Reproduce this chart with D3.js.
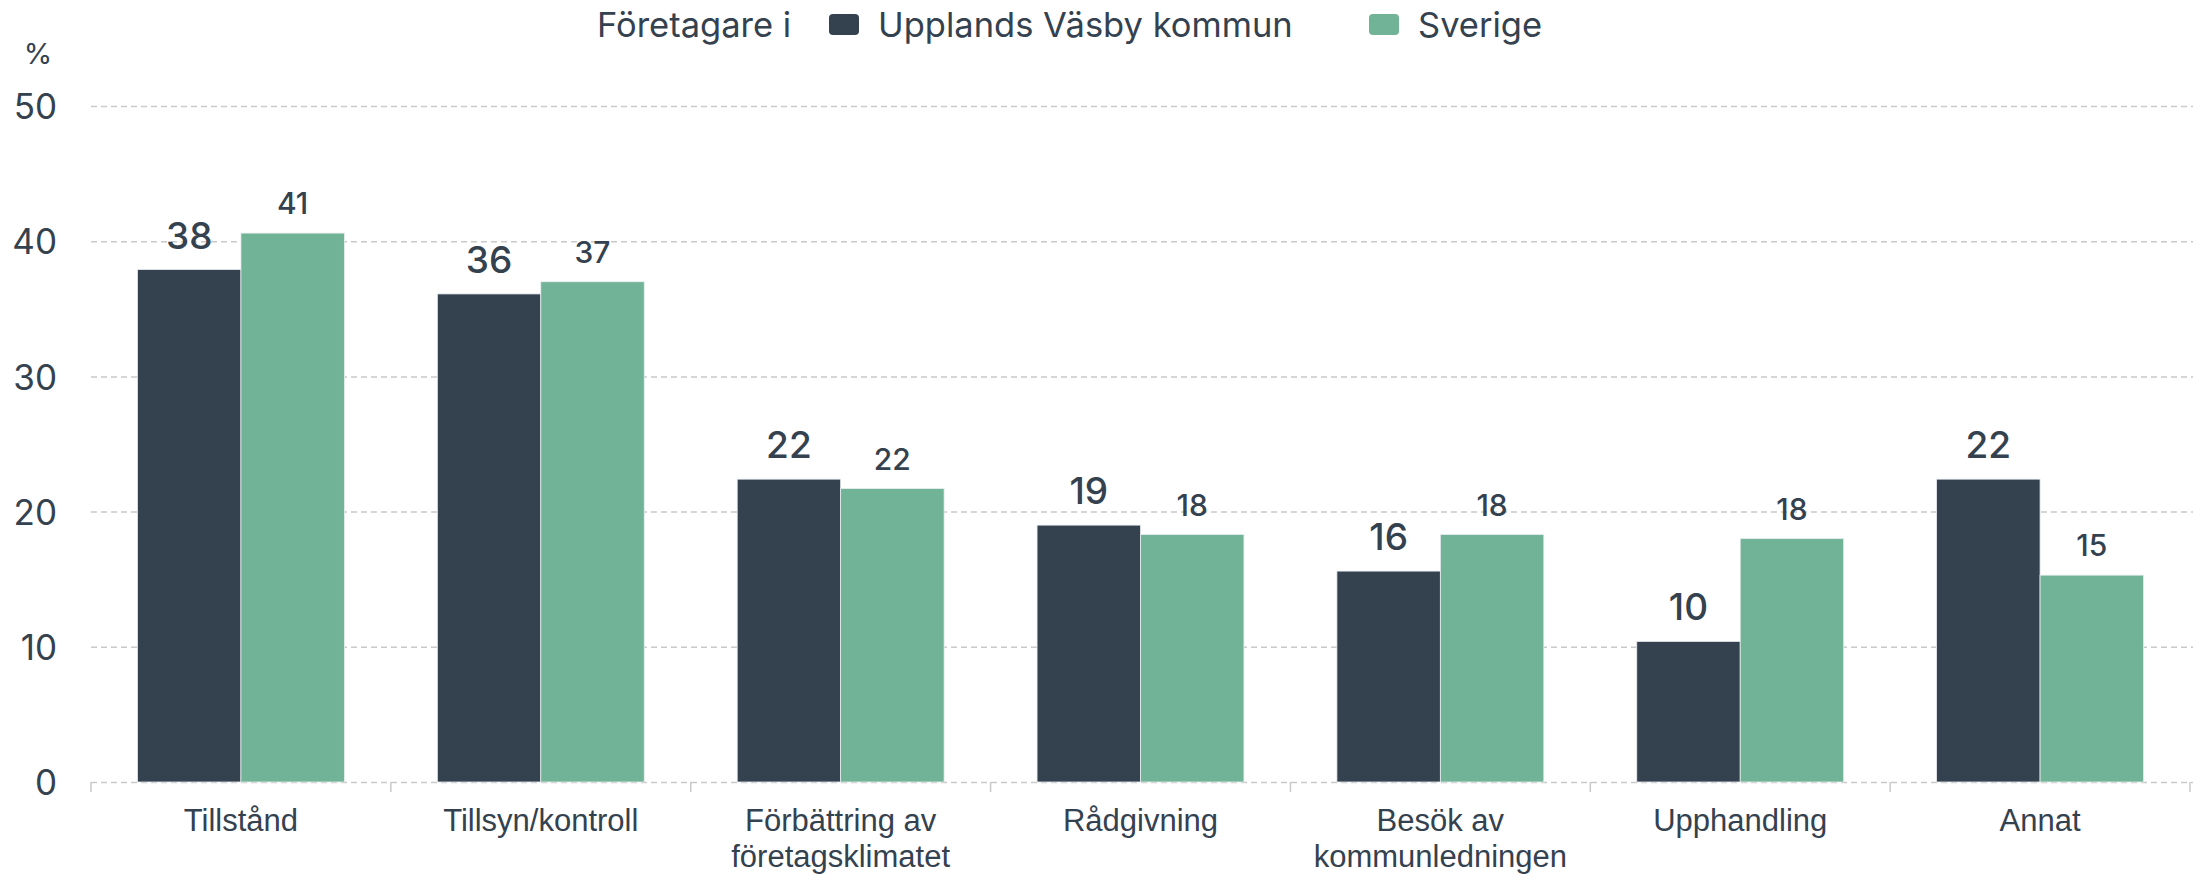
<html>
  <head>
    <meta charset="utf-8">
    <style>
    body {
      margin: 0;
      background: #fff;
    }
    .grid line {
      stroke: #c9c9c9;
      stroke-width: 1.5;
      stroke-dasharray: 6,4;
    }
    .grid .domain { display: none; }
    .ytick text {
      font-family: Inter, "Open Sans", sans-serif;
      font-size: 35px;
      fill: #34414f;
    }
    .cat {
      font-family: "Liberation Sans", Arial, sans-serif;
      font-size: 31px;
      fill: #34414f;
    }
    .legend text {
      font-family: Inter, "Open Sans", sans-serif;
      font-size: 34.5px;
      fill: #34414f;
    }
    </style>
  </head>
  <body>
    <script src="https://d3js.org/d3.v7.min.js"></script>
    <script>
    var width = 2193,
      height = 874;

    var categories = ["Tillstånd", "Tillsyn/kontroll", "Förbättring av företagsklimatet",
      "Rådgivning", "Besök av kommunledningen", "Upphandling", "Annat"];
    var catLines = [["Tillstånd"], ["Tillsyn/kontroll"], ["Förbättring av", "företagsklimatet"],
      ["Rådgivning"], ["Besök av", "kommunledningen"], ["Upphandling"], ["Annat"]];
    var seriesNames = ["Upplands Väsby kommun", "Sverige"];
    var vasby = [37.9, 36.1, 22.4, 19.0, 15.6, 10.4, 22.4];
    var sverige = [40.6, 37.0, 21.7, 18.3, 18.3, 18.0, 15.3];
    var yTicks = [0, 10, 20, 30, 40, 50];
    var colors = ["#34414f", "#71b396"];

    var margin = {left: 91, right: 3, top: 106, bottom: 92};

    var svg = d3.select("body").append("svg")
        .attr("width", width)
        .attr("height", height);

    var x0 = d3.scaleBand()
        .domain(categories)
        .range([margin.left, width - margin.right])
        .padding(0);

    var x1 = d3.scaleBand()
        .domain(seriesNames)
        .range([x0.bandwidth() * 0.155, x0.bandwidth() * 0.845])
        .padding(0);

    var y = d3.scaleLinear()
        .domain([0, 50])
        .range([height - margin.bottom, margin.top]);

    // gridlines + y labels
    var yAxis = svg.append("g")
        .attr("class", "grid ytick")
        .attr("transform", "translate(" + margin.left + ",0)")
        .call(d3.axisLeft(y)
          .tickValues(yTicks)
          .tickSize(-(width - margin.left))
          .tickPadding(34));
    yAxis.selectAll("text").attr("dy", "0.36em");

    // boundary ticks under baseline
    var bounds = categories.map(function(c){ return x0(c); }).concat([width - margin.right]);
    svg.append("g").attr("class", "grid")
      .selectAll("line")
      .data(bounds)
      .enter().append("line")
        .attr("x1", function(d){ return d; })
        .attr("x2", function(d){ return d; })
        .attr("y1", y(0))
        .attr("y2", y(0) + 10)
        .style("stroke-dasharray", "none");

    // "%" unit
    svg.append("text")
      .attr("x", 38)
      .attr("y", 64)
      .attr("text-anchor", "middle")
      .style("font-family", "Inter, sans-serif")
      .style("font-size", "29px")
      .style("fill", "#34414f")
      .text("%");

    var rows = categories.map(function(c, i){
      return {cat: c, values: [
        {s: seriesNames[0], v: vasby[i], k: 0},
        {s: seriesNames[1], v: sverige[i], k: 1}
      ]};
    });

    var groups = svg.append("g").selectAll("g")
      .data(rows)
      .enter().append("g")
        .attr("transform", function(d){ return "translate(" + x0(d.cat) + ",0)"; });

    groups.selectAll("rect")
      .data(function(d){ return d.values; })
      .enter().append("rect")
        .attr("x", function(d){ return x1(d.s); })
        .attr("width", x1.bandwidth())
        .attr("y", function(d){ return y(d.v); })
        .attr("height", function(d){ return y(0) - y(d.v); })
        .attr("fill", function(d){ return colors[d.k]; })
        .attr("stroke", "#e8ecef")
        .attr("stroke-width", 0.8);

    groups.selectAll("text.val")
      .data(function(d){ return d.values; })
      .enter().append("text")
        .attr("class", "val")
        .attr("x", function(d){ return x1(d.s) + x1.bandwidth() / 2; })
        .attr("y", function(d){ return y(d.v) - (d.k === 0 ? 21 : 19); })
        .attr("text-anchor", "middle")
        .style("font-family", "Inter, 'Open Sans', sans-serif")
        .style("font-weight", 500)
        .style("font-size", function(d){ return d.k === 0 ? "37px" : "30px"; })
        .style("fill", "#34414f")
        .text(function(d){ return d3.format(".0f")(d.v); });

    // category labels
    var catG = svg.append("g");
    categories.forEach(function(c, i){
      var t = catG.append("text")
        .attr("class", "cat")
        .attr("text-anchor", "middle")
        .attr("x", x0(c) + x0.bandwidth() / 2)
        .attr("y", 831);
      catLines[i].forEach(function(line, j){
        t.append("tspan")
          .attr("x", x0(c) + x0.bandwidth() / 2)
          .attr("dy", j === 0 ? 0 : 36)
          .text(line);
      });
    });

    // legend
    var legend = svg.append("g").attr("class", "legend");
    legend.append("text").attr("x", 597).attr("y", 37).text("Företagare i");
    var legX = [829, 1369];
    seriesNames.forEach(function(s, i){
      legend.append("rect")
        .attr("x", legX[i])
        .attr("y", 14)
        .attr("width", 30)
        .attr("height", 21)
        .attr("rx", 4)
        .attr("fill", colors[i]);
      legend.append("text")
        .attr("x", legX[i] + 49)
        .attr("y", 37)
        .text(s);
    });
    </script>
  </body>
</html>
